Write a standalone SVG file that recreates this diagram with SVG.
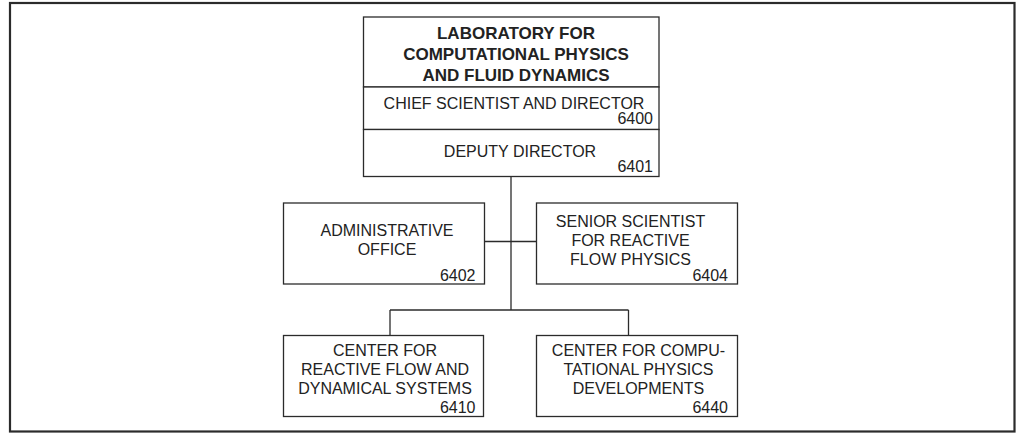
<svg xmlns="http://www.w3.org/2000/svg" width="1016" height="433" viewBox="0 0 1016 433">
<style>
.box{fill:#fff;stroke:#2b2b2b;stroke-width:1.3}
.ln{fill:none;stroke:#2b2b2b;stroke-width:1.3}
text{font-family:"Liberation Sans",Arial,sans-serif;font-size:16px;fill:#222}
.c{text-anchor:middle}
.r{text-anchor:end}
.b{font-weight:bold;font-size:17px}
</style>
<rect x="0" y="0" width="1016" height="433" fill="#fff"/>
<rect x="10" y="3" width="1004.5" height="428.5" fill="none" stroke="#2b2b2b" stroke-width="2.2"/>
<g id="connectors">
<line class="ln" x1="511" y1="176.5" x2="511" y2="310"/>
<line class="ln" x1="484.5" y1="241.5" x2="536.5" y2="241.5"/>
<line class="ln" x1="390" y1="310" x2="628.5" y2="310"/>
<line class="ln" x1="390" y1="310" x2="390" y2="335.5"/>
<line class="ln" x1="628.5" y1="310" x2="628.5" y2="335.5"/>
</g>
<g id="lab">
<rect class="box" x="363.5" y="17" width="295.5" height="70"/>
<text class="c b" x="516" y="38.5">LABORATORY FOR</text>
<text class="c b" x="516" y="59.5">COMPUTATIONAL PHYSICS</text>
<text class="c b" x="516" y="80.5">AND FLUID DYNAMICS</text>
</g>
<g id="chief">
<rect class="box" x="363.5" y="87" width="295.5" height="42.5"/>
<text class="c" x="514" y="108.5">CHIEF SCIENTIST AND DIRECTOR</text>
<text class="r" x="653" y="123.5">6400</text>
</g>
<g id="deputy">
<rect class="box" x="363.5" y="129.5" width="295.5" height="47"/>
<text class="c" x="520" y="156.5">DEPUTY DIRECTOR</text>
<text class="r" x="653" y="172">6401</text>
</g>
<g id="admin">
<rect class="box" x="283.5" y="203" width="201" height="81"/>
<text class="c" x="387" y="236">ADMINISTRATIVE</text>
<text class="c" x="387" y="254.5">OFFICE</text>
<text class="r" x="475.5" y="280.5">6402</text>
</g>
<g id="senior">
<rect class="box" x="536.5" y="203" width="201" height="81"/>
<text class="c" x="630.5" y="226.5">SENIOR SCIENTIST</text>
<text class="c" x="630.5" y="245.5">FOR REACTIVE</text>
<text class="c" x="630.5" y="265">FLOW PHYSICS</text>
<text class="r" x="728" y="280.5">6404</text>
</g>
<g id="crfds">
<rect class="box" x="283.5" y="335.5" width="200" height="81"/>
<text class="c" x="385" y="356">CENTER FOR</text>
<text class="c" x="385" y="375">REACTIVE FLOW AND</text>
<text class="c" x="385" y="394">DYNAMICAL SYSTEMS</text>
<text class="r" x="475.5" y="412.5">6410</text>
</g>
<g id="ccpd">
<rect class="box" x="536.5" y="335.5" width="201" height="81"/>
<text class="c" x="638.5" y="356">CENTER FOR COMPU-</text>
<text class="c" x="638.5" y="375">TATIONAL PHYSICS</text>
<text class="c" x="638.5" y="394">DEVELOPMENTS</text>
<text class="r" x="728" y="412.5">6440</text>
</g>
</svg>
